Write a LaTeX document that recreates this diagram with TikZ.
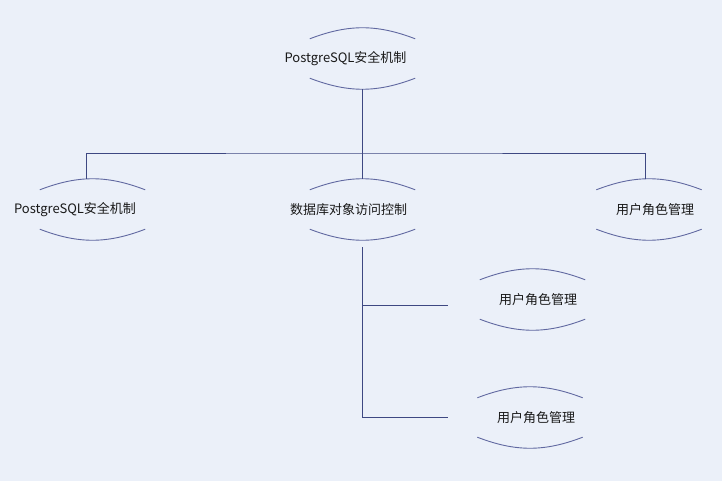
\documentclass[tikz,border=0pt]{standalone}
\usepackage{xcolor}
\usepackage{fontspec}
\setmainfont{Noto Sans CJK SC}
\usepackage{tikz}
\usetikzlibrary{calc}
\definecolor{bgcol}{RGB}{235,240,249}
\definecolor{linkcol}{RGB}{62,72,130}
\definecolor{arccol}{RGB}{96,104,160}
\definecolor{txtcol}{RGB}{25,25,25}
\tikzset{
  link/.style={
    draw = linkcol,
    line width=0.9pt
  },
  arcline/.style={
    draw = arccol,
    line width=0.9pt
  },
  topic/.style={
    inner sep = 0pt,
    minimum width = 105pt,
    minimum height = 61pt,
    append after command={
      ([yshift=-11pt]\tikzlastnode.north west) edge[arcline, bend left=21] ([yshift=-11pt]\tikzlastnode.north east)
      ([yshift=11pt]\tikzlastnode.south west) edge[arcline, bend right=21] ([yshift=11pt]\tikzlastnode.south east)
    }
  },
  every label/.style = {
    text = txtcol,
    font = \fontsize{13}{15}\selectfont
  }
}

\begin{document}
\begin{tikzpicture}[x=1pt,y=1pt]
    \fill[bgcol] (0,0) rectangle (722,-481);
    \useasboundingbox (0,0) rectangle (722,-481);
    %
    \node[topic, label={[xshift=-17pt]center:PostgreSQL安全机制}] (root) at (362.5,-58.5) {};
    \node[topic, label={[xshift=-17.5pt]center:PostgreSQL安全机制}] (left) at (92.5,-209.5) {};
    \node[topic, label={[xshift=-14pt]center:数据库对象访问控制}] (mid) at (362.5,-209.5) {};
    \node[topic, label={[xshift=6pt]center:用户角色管理}] (right) at (649,-209.5) {};
    \node[topic, label={[xshift=5.5pt]center:用户角色管理}] (subA) at (532.5,-299.5) {};
    \node[topic, label={[xshift=6pt]center:用户角色管理}] (subB) at (530,-417.5) {};
    %
    \coordinate (hub) at (root.south |- 0,-153);
    \coordinate (endA) at ([xshift=-32pt,yshift=-5.5pt]subA.west);
    \coordinate (endB) at ([xshift=-29pt]subB.west);
    %
    \draw[link] (root.south) -- (hub);
    \draw[link] ([xshift=-6.5pt]left.north) |- (hub) -| ([xshift=-4pt]right.north);
    \draw[link] (hub) -- (mid.north);
    \draw[link] ([yshift=-7pt]mid.south) |- (endB);
    \draw[link] (endA -| mid.south) -- (endA);
\end{tikzpicture}
\end{document}
